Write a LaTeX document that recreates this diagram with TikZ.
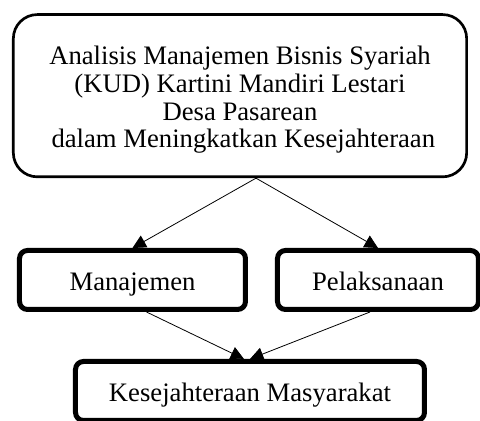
\documentclass[tikz,border=0pt]{standalone}
\usepackage{fontspec}
\setmainfont{Liberation Serif}
\usetikzlibrary{arrows.meta}
\begin{document}
\begin{tikzpicture}[x=0.75pt, y=0.75pt, >={Triangle[length=10pt,width=10pt]},
    judul/.style={draw, line width=2pt, rounded corners=18pt, fill=white, align=center,
        inner sep=0pt, minimum width=340pt, minimum height=121.7pt,
        font=\fontsize{20}{20.8}\selectfont},
    kotak/.style={draw, line width=3.75pt, rounded corners=6pt, fill=white,
        inner sep=0pt, minimum height=44.25pt, text height=18pt, text depth=1.5pt,
        font=\fontsize{20}{24}\selectfont},
    panah/.style={->, line width=0.6pt}]
    \clip (0,0) rectangle (480,421);
    % Kotak judul
    \node[judul] (analisis) at (240,325.3) {\rule{0pt}{20.3pt}Analisis Manajemen Bisnis Syariah\\
        (KUD) Kartini Mandiri Lestari\\ Desa Pasarean\\ \ dalam Meningkatkan Kesejahteraan};
    % Kotak variabel
    \node[kotak, minimum width=169.5pt] (manajemen) at (132.5,141) {Manajemen};
    \node[kotak, minimum width=150.75pt] (pelaksanaan) at (378,141) {Pelaksanaan};
    \node[kotak, minimum width=261.75pt] (sejahtera) at (250,30) {Kesejahteraan Masyarakat};
    % Panah
    \draw[panah] ([xshift=12pt]analisis.south) -- (manajemen.north);
    \draw[panah] ([xshift=12pt]analisis.south) -- (pelaksanaan.north);
    \draw[panah] ([xshift=10.5pt]manajemen.south) -- ([xshift=-4.5pt]sejahtera.north);
    \draw[panah] ([xshift=-6pt]pelaksanaan.south) -- (sejahtera.north);
\end{tikzpicture}
\end{document}
